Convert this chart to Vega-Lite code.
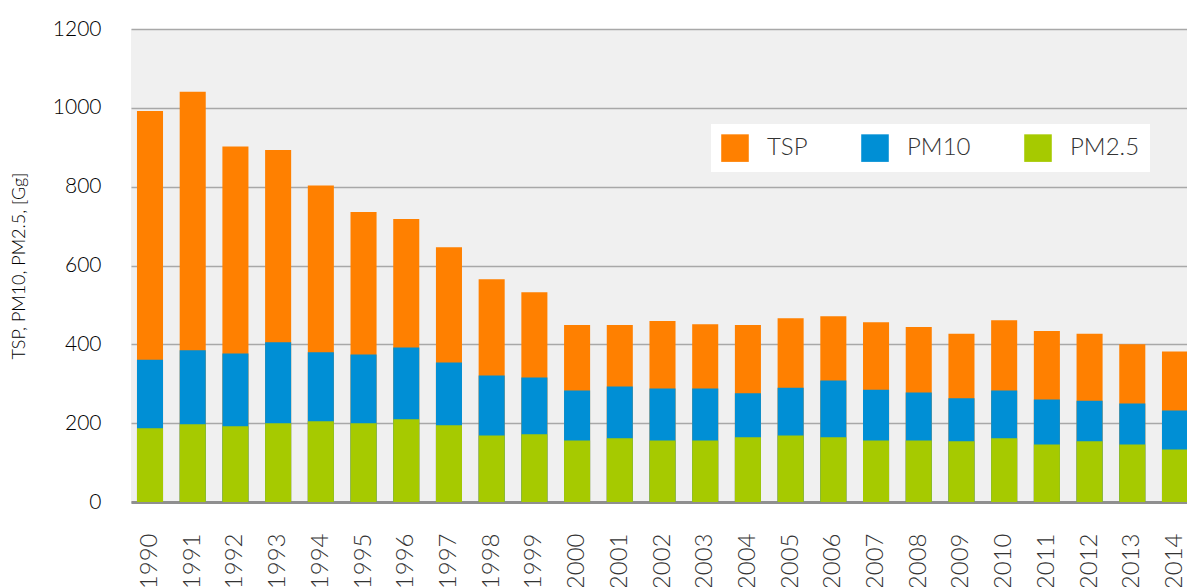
{
  "$schema": "https://vega.github.io/schema/vega-lite/v6.json",
  "autosize": {"type": "none"},
  "width": 1063,
  "height": 473,
  "padding": {"left": 131, "top": 29, "right": -7, "bottom": 85},
  "background": "white",
  "config": {
    "font": "Lato",
    "view": {"fill": "#F0F0F0", "stroke": null}
  },
  "data": {
    "values": [
      {"year": "1990", "series": "TSP", "value": 992},
      {"year": "1991", "series": "TSP", "value": 1041},
      {"year": "1992", "series": "TSP", "value": 902},
      {"year": "1993", "series": "TSP", "value": 893},
      {"year": "1994", "series": "TSP", "value": 803},
      {"year": "1995", "series": "TSP", "value": 736},
      {"year": "1996", "series": "TSP", "value": 718},
      {"year": "1997", "series": "TSP", "value": 646},
      {"year": "1998", "series": "TSP", "value": 565},
      {"year": "1999", "series": "TSP", "value": 532},
      {"year": "2000", "series": "TSP", "value": 449},
      {"year": "2001", "series": "TSP", "value": 449},
      {"year": "2002", "series": "TSP", "value": 459},
      {"year": "2003", "series": "TSP", "value": 451},
      {"year": "2004", "series": "TSP", "value": 449},
      {"year": "2005", "series": "TSP", "value": 466},
      {"year": "2006", "series": "TSP", "value": 471},
      {"year": "2007", "series": "TSP", "value": 456},
      {"year": "2008", "series": "TSP", "value": 444},
      {"year": "2009", "series": "TSP", "value": 427},
      {"year": "2010", "series": "TSP", "value": 461},
      {"year": "2011", "series": "TSP", "value": 434},
      {"year": "2012", "series": "TSP", "value": 427},
      {"year": "2013", "series": "TSP", "value": 400},
      {"year": "2014", "series": "TSP", "value": 382},
      {"year": "1990", "series": "PM10", "value": 361},
      {"year": "1991", "series": "PM10", "value": 385},
      {"year": "1992", "series": "PM10", "value": 377},
      {"year": "1993", "series": "PM10", "value": 405},
      {"year": "1994", "series": "PM10", "value": 380},
      {"year": "1995", "series": "PM10", "value": 374},
      {"year": "1996", "series": "PM10", "value": 392},
      {"year": "1997", "series": "PM10", "value": 354},
      {"year": "1998", "series": "PM10", "value": 321},
      {"year": "1999", "series": "PM10", "value": 316},
      {"year": "2000", "series": "PM10", "value": 283},
      {"year": "2001", "series": "PM10", "value": 293},
      {"year": "2002", "series": "PM10", "value": 288},
      {"year": "2003", "series": "PM10", "value": 288},
      {"year": "2004", "series": "PM10", "value": 276},
      {"year": "2005", "series": "PM10", "value": 290},
      {"year": "2006", "series": "PM10", "value": 308},
      {"year": "2007", "series": "PM10", "value": 285},
      {"year": "2008", "series": "PM10", "value": 278},
      {"year": "2009", "series": "PM10", "value": 263},
      {"year": "2010", "series": "PM10", "value": 283},
      {"year": "2011", "series": "PM10", "value": 260},
      {"year": "2012", "series": "PM10", "value": 257},
      {"year": "2013", "series": "PM10", "value": 250},
      {"year": "2014", "series": "PM10", "value": 232},
      {"year": "1990", "series": "PM2.5", "value": 187},
      {"year": "1991", "series": "PM2.5", "value": 197},
      {"year": "1992", "series": "PM2.5", "value": 192},
      {"year": "1993", "series": "PM2.5", "value": 200},
      {"year": "1994", "series": "PM2.5", "value": 205},
      {"year": "1995", "series": "PM2.5", "value": 200},
      {"year": "1996", "series": "PM2.5", "value": 210},
      {"year": "1997", "series": "PM2.5", "value": 195},
      {"year": "1998", "series": "PM2.5", "value": 169},
      {"year": "1999", "series": "PM2.5", "value": 172},
      {"year": "2000", "series": "PM2.5", "value": 156},
      {"year": "2001", "series": "PM2.5", "value": 162},
      {"year": "2002", "series": "PM2.5", "value": 156},
      {"year": "2003", "series": "PM2.5", "value": 156},
      {"year": "2004", "series": "PM2.5", "value": 164},
      {"year": "2005", "series": "PM2.5", "value": 169},
      {"year": "2006", "series": "PM2.5", "value": 164},
      {"year": "2007", "series": "PM2.5", "value": 156},
      {"year": "2008", "series": "PM2.5", "value": 156},
      {"year": "2009", "series": "PM2.5", "value": 154},
      {"year": "2010", "series": "PM2.5", "value": 162},
      {"year": "2011", "series": "PM2.5", "value": 146},
      {"year": "2012", "series": "PM2.5", "value": 154},
      {"year": "2013", "series": "PM2.5", "value": 146},
      {"year": "2014", "series": "PM2.5", "value": 133}
    ]
  },
  "mark": {"type": "bar"},
  "encoding": {
    "x": {
      "field": "year",
      "type": "ordinal",
      "scale": {"paddingInner": 0.39, "paddingOuter": 0.14},
      "axis": {
        "title": null,
        "labelAngle": -90,
        "labelAlign": "right",
        "labelBaseline": "middle",
        "labelPadding": 31,
        "labelFontSize": 24,
        "labelFontWeight": 300,
        "labelColor": "#333333",
        "labelFont": "Lato",
        "ticks": false,
        "domain": true,
        "domainColor": "#8F8F8F",
        "domainWidth": 3,
        "grid": false
      }
    },
    "y": {
      "field": "value",
      "type": "quantitative",
      "stack": null,
      "scale": {"domain": [0, 1200], "nice": false},
      "axis": {
        "title": "TSP, PM10, PM2.5, [Gg]",
        "titleFont": "Lato",
        "titleFontSize": 18,
        "titleFontWeight": 300,
        "titleColor": "#000000",
        "titlePadding": 24,
        "values": [0, 200, 400, 600, 800, 1000, 1200],
        "format": "d",
        "labelFontSize": 21,
        "labelFontWeight": 300,
        "labelColor": "#000000",
        "labelFont": "Lato",
        "labelPadding": 30,
        "ticks": false,
        "domain": false,
        "grid": true,
        "gridColor": "#A8A8A8",
        "gridWidth": 1.5
      }
    },
    "color": {
      "field": "series",
      "type": "nominal",
      "scale": {
        "domain": ["TSP", "PM10", "PM2.5"],
        "range": ["#FF8000", "#008FD5", "#A6CA00"]
      },
      "legend": {
        "title": null,
        "orient": "none",
        "legendX": 580,
        "legendY": 95,
        "direction": "horizontal",
        "fillColor": "white",
        "padding": 10,
        "symbolType": "square",
        "symbolSize": 760,
        "symbolStrokeWidth": 0,
        "symbolOpacity": 1,
        "labelFontSize": 24,
        "labelFontWeight": 300,
        "labelFont": "Lato",
        "labelColor": "#333333",
        "labelOffset": 18,
        "columnPadding": 53
      }
    }
  }
}
